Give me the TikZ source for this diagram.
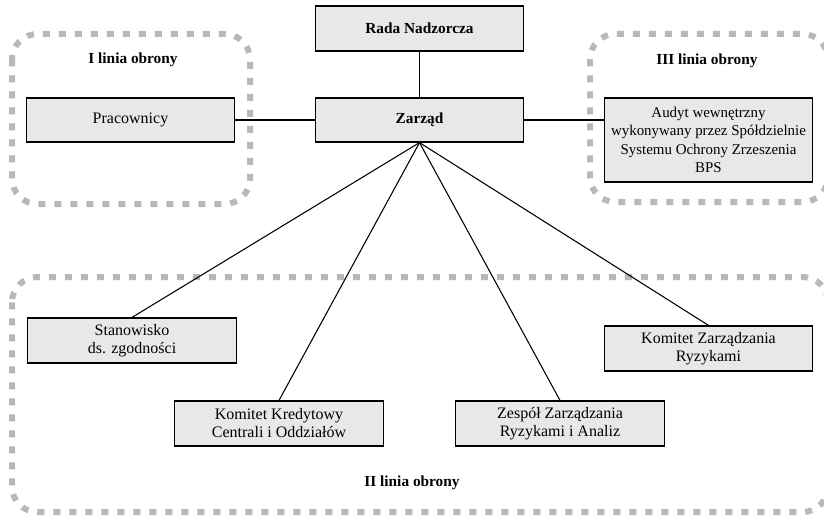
\documentclass[tikz,border=0pt]{standalone}
\usepackage{fontspec}
\setmainfont{Liberation Serif}
\definecolor{boxgray}{HTML}{E8E8E8}
\definecolor{dashgray}{HTML}{B8B8B8}
\begin{document}
\begin{tikzpicture}[x=0.75pt,y=-0.75pt,
  orgbox/.style={draw=black, line width=0.9pt, fill=boxgray, inner sep=0pt, align=center,
    minimum width=156.5pt, minimum height=33.75pt, font=\fontsize{12}{13.5}\selectfont},
  boldtext/.style={font=\bfseries\fontsize{11.5}{13.5}\selectfont},
  region/.style={draw=dashgray, line width=4.5pt, dash pattern=on 5.25pt off 6.75pt, rounded corners=19pt},
  link/.style={draw=black, line width=0.8pt}]
\useasboundingbox (0,0) rectangle (824,517);
% dashed regions
\draw[region] (12,34) rectangle (250,204);
\draw[region] (590,34) rectangle (828,202);
\draw[region] (12,277) rectangle (828,512);
\node[boldtext] (l1) at (133,60) {I linia obrony};
\node[boldtext] (l3) at (707,61) {III linia obrony};
\node[boldtext] (l2) at (412,483) {II linia obrony};
% boxes
\node[orgbox, boldtext] (rada) at (419.5,28.5) {Rada Nadzorcza};
\node[orgbox, boldtext, minimum height=33pt] (zarzad) at (419.5,120) {Zarząd};
\node[orgbox, minimum height=33pt] (prac) at (130.5,120) {Pracownicy};
\node[orgbox, minimum height=63pt, font=\fontsize{11.2}{13.7}\selectfont] (audyt) at (708.5,140) {Audyt wewnętrzny\\wykonywany przez Spółdzielnie\\Systemu Ochrony Zrzeszenia\\BPS};
\node[orgbox] (stan) at (132,340.5) {Stanowisko\\ds. zgodności};
\node[orgbox] (kk) at (279,423.5) {Komitet Kredytowy\\Centrali i Oddziałów};
\node[orgbox] (zesp) at (560,423.5) {Zespół Zarządzania\\Ryzykami i Analiz};
\node[orgbox] (kzr) at (708.5,348.5) {Komitet Zarządzania\\Ryzykami};
% connectors
\draw[link] (rada.south) -- (zarzad.north);
\draw[link] (prac.east) -- (zarzad.west);
\draw[link] (zarzad.east) -- (zarzad.east -| audyt.west);
\draw[link] (zarzad.south) -- (stan.north);
\draw[link] (zarzad.south) -- (kk.north);
\draw[link] (zarzad.south) -- (zesp.north);
\draw[link] (zarzad.south) -- (kzr.north);
\end{tikzpicture}
\end{document}
